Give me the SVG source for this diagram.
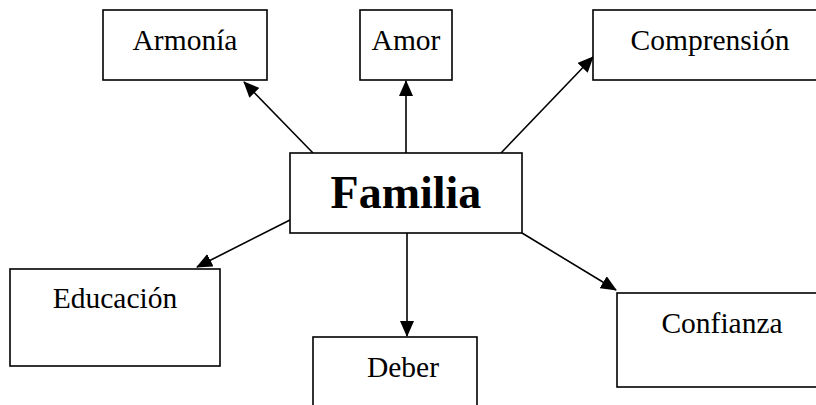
<svg xmlns="http://www.w3.org/2000/svg" width="816" height="405" viewBox="0 0 816 405">
<style>
.box{fill:#fff;stroke:#000;stroke-width:1.6}
.t{font-family:"Liberation Serif","Times New Roman",serif;font-size:29.5px;text-anchor:middle;fill:#000}
.big{font-family:"Liberation Serif","Times New Roman",serif;font-size:46px;font-weight:bold;text-anchor:middle;fill:#000}
.c{stroke:#000;stroke-width:1.6;fill:none;marker-end:url(#ah)}
</style>
<defs>
<marker id="ah" markerUnits="userSpaceOnUse" markerWidth="16" markerHeight="14" viewBox="0 0 16 14" refX="15" refY="7" orient="auto">
<path d="M0,0 L16,7 L0,14 z" fill="#000"/>
</marker>
</defs>
<rect width="816" height="405" fill="#fff"/>
<g id="connectors">
<line class="c" x1="313" y1="153" x2="244" y2="82"/>
<line class="c" x1="406" y1="153" x2="406" y2="81"/>
<line class="c" x1="501" y1="153" x2="593" y2="57"/>
<line class="c" x1="290" y1="220" x2="197" y2="267"/>
<line class="c" x1="407" y1="233" x2="407" y2="336"/>
<line class="c" x1="522" y1="233" x2="616" y2="290"/>
</g>
<g id="armonia"><rect class="box" x="103" y="10" width="164" height="70"/><text class="t" x="185" y="50">Armonía</text></g>
<g id="amor"><rect class="box" x="360" y="10" width="92" height="70"/><text class="t" x="406" y="50">Amor</text></g>
<g id="comprension"><rect class="box" x="593" y="10" width="230" height="70"/><text class="t" x="710" y="50">Comprensión</text></g>
<g id="familia"><rect class="box" x="290" y="153" width="232" height="80"/><text class="big" x="406" y="208">Familia</text></g>
<g id="educacion"><rect class="box" x="10" y="269" width="210" height="97"/><text class="t" x="115" y="308">Educación</text></g>
<g id="deber"><rect class="box" x="313" y="337" width="164" height="80"/><text class="t" x="403" y="377">Deber</text></g>
<g id="confianza"><rect class="box" x="617" y="293" width="210" height="94"/><text class="t" x="722" y="333">Confianza</text></g>
</svg>
